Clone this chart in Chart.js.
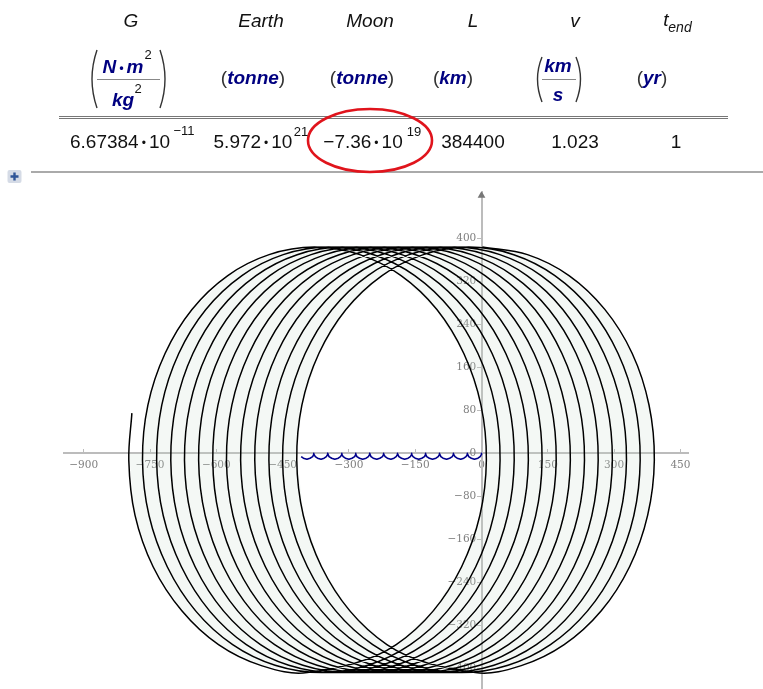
<!DOCTYPE html>
<html>
<head>
<meta charset="utf-8">
<title>Moon orbit</title>
<script src="https://cdn.jsdelivr.net/npm/chart.js@4"></script>
<style>
    html, body { margin: 0; background: #fff; }
    #page { position: relative; width: 763px; height: 689px; overflow: hidden; font-family: "Liberation Sans", Arial, sans-serif; color: #111; }
    #chart, #marks { position: absolute; left: 0; top: 0; }
    .t { position: absolute; font-size: 19px; line-height: 1; white-space: nowrap; transform: translate(-50%, -50%); }
    .i { font-style: italic; }
    .u { font-style: italic; font-weight: bold; color: #000080; }
    .p { font-style: normal; font-weight: normal; color: #333; }
    .s { font-size: 13px; }
    .d { font-size: 12px; margin: 0 3px; position: relative; top: -1px; }
</style>
</head>
<body>
<div id="page">
    <canvas id="chart" width="763" height="695"></canvas>

    <svg id="marks" width="763" height="689" fill="none">
        <path d="M97 50 Q87 79 97 108 M160 50 Q170 79 160 108" stroke="#333" stroke-width="1.4"/>
        <path d="M542 57 Q533 79 542 102 M576 57 Q585 79 576 102" stroke="#333" stroke-width="1.4"/>
        <path d="M97 79.5 H160 M542 79.5 H576" stroke="#888" stroke-width="1"/>
        <path d="M59 116.5 H728 M59 118.5 H728" stroke="#777" stroke-width="1.2"/>
        <path d="M31 172 H763" stroke="#aaa" stroke-width="2"/>
        <rect x="7.5" y="170" width="14" height="13" rx="2" fill="#d5dbe6"/>
        <path d="M14.5 172.5 V180.5 M10.5 176.5 H18.5" stroke="#2f5597" stroke-width="2.4"/>
        <ellipse cx="370" cy="140.5" rx="62" ry="31.5" stroke="#e0141c" stroke-width="2.6"/>
    </svg>

    <div class="t i" style="left:131px;top:20px">G</div>
    <div class="t i" style="left:261px;top:20px">Earth</div>
    <div class="t i" style="left:370px;top:20px">Moon</div>
    <div class="t i" style="left:473px;top:20px">L</div>
    <div class="t i" style="left:575px;top:20px">v</div>
    <div class="t i" style="left:666px;top:19px">t</div>
    <div class="t i" style="left:680px;top:27px;font-size:14px">end</div>

    <div class="t u" style="left:123px;top:66px">N<span class="d" style="color:#000080">•</span>m</div>
    <div class="t s" style="left:148px;top:54px">2</div>
    <div class="t u" style="left:123px;top:99px">kg</div>
    <div class="t s" style="left:138px;top:88px">2</div>
    <div class="t u" style="left:253px;top:77px"><span class="p">(</span>tonne<span class="p">)</span></div>
    <div class="t u" style="left:362px;top:77px"><span class="p">(</span>tonne<span class="p">)</span></div>
    <div class="t u" style="left:453px;top:77px"><span class="p">(</span>km<span class="p">)</span></div>
    <div class="t u" style="left:558px;top:65px">km</div>
    <div class="t u" style="left:558px;top:94px">s</div>
    <div class="t u" style="left:652px;top:77px"><span class="p">(</span>yr<span class="p">)</span></div>

    <div class="t" style="left:120px;top:141px">6.67384<span class="d">•</span>10</div>
    <div class="t s" style="left:184px;top:130px">−11</div>
    <div class="t" style="left:253px;top:141px">5.972<span class="d">•</span>10</div>
    <div class="t s" style="left:301px;top:131px">21</div>
    <div class="t" style="left:363px;top:141px">−7.36<span class="d">•</span>10</div>
    <div class="t s" style="left:414px;top:131px">19</div>
    <div class="t" style="left:473px;top:141px">384400</div>
    <div class="t" style="left:575px;top:141px">1.023</div>
    <div class="t" style="left:676px;top:141px">1</div>
</div>

<script>
// Moon path, one row per orbit
// first half turn and last part are sampled finer so the two free ends stay round
const moonX = [
    2, 104, 198, 279, 341, 379,
    391, 376, 335, 271, 187, 90, -14, -214, -362, -418, -368, -225, -29, 166, 309,
    359, 304, 156, -45, -246, -394, -450, -399, -257, -61, 135, 277,
    328, 272, 124, -77, -278, -426, -481, -431, -288, -93, 103, 245,
    296, 240, 92, -109, -310, -457, -513, -463, -320, -125, 71, 214,
    264, 209, 61, -140, -341, -489, -545, -494, -352, -156, 40, 182,
    233, 177, 29, -172, -373, -521, -577, -526, -384, -188, 8, 150,
    201, 145, -3, -204, -405, -553, -608, -558, -415, -220, -24, 119,
    169, 113, -35, -235, -436, -584, -640, -590, -447, -251, -56, 87,
    137, 82, -66, -267, -468, -616, -672, -621, -479, -283, -87, 55,
    106, 50, -98, -299, -500, -648, -703, -653, -510, -315, -119, 24,
    74, 18, -130, -331, -532, -679, -735, -685, -542, -346, -151, -8,
    42, -13, -161, -362, -563, -711, -767, -716, -574, -378, -182, -40,
    11, -45, -193, -394, -498, -595, -678, -743, -784, -798, -791
];
const moonY = [
    384, 370, 331, 268, 186, 90,
    -13, -115, -211, -293, -356, -395, -408, -356, -211, -13, 186, 331, 384, 331, 186,
    -13, -211, -356, -408, -356, -211, -13, 186, 331, 384, 331, 186,
    -13, -211, -356, -408, -356, -211, -13, 186, 331, 384, 331, 186,
    -13, -211, -356, -408, -356, -211, -13, 186, 331, 384, 331, 186,
    -13, -211, -356, -408, -356, -211, -13, 186, 331, 384, 331, 186,
    -13, -211, -356, -408, -356, -211, -13, 186, 331, 384, 331, 186,
    -13, -211, -356, -408, -356, -211, -13, 186, 331, 384, 331, 186,
    -13, -211, -356, -408, -356, -211, -13, 186, 331, 384, 331, 186,
    -13, -211, -356, -408, -356, -211, -13, 186, 331, 384, 331, 186,
    -13, -211, -356, -408, -356, -211, -13, 186, 331, 384, 331, 186,
    -13, -211, -356, -408, -356, -211, -13, 186, 331, 384, 331, 186,
    -13, -211, -356, -408, -356, -211, -13, 186, 331, 384, 331, 186,
    -13, -211, -356, -408, -395, -356, -293, -211, -115, -13, 75
];

// Earth path, small arches below the x axis
const earthX = [
    0, 0, -3, -8, -16, -23, -29, -31, -32,
    -32, -35, -40, -47, -55, -60, -63, -63,
    -64, -66, -72, -79, -87, -92, -94, -95,
    -95, -98, -103, -111, -118, -124, -126, -126,
    -127, -129, -135, -142, -150, -155, -158, -158,
    -158, -161, -166, -174, -181, -187, -189, -190,
    -190, -193, -198, -205, -213, -218, -221, -221,
    -222, -224, -230, -237, -245, -250, -252, -253,
    -253, -256, -261, -269, -276, -282, -284, -284,
    -285, -287, -293, -300, -308, -313, -316, -316,
    -316, -319, -324, -332, -339, -345, -347, -348,
    -348, -351, -356, -363, -371, -376, -379, -379,
    -380, -382, -388, -395, -403, -408
];
const earthY = [
    0, -2, -6, -9, -11, -9, -6, -2, 0,
    -2, -6, -9, -11, -9, -6, -2, 0,
    -2, -6, -9, -11, -9, -6, -2, 0,
    -2, -6, -9, -11, -9, -6, -2, 0,
    -2, -6, -9, -11, -9, -6, -2, 0,
    -2, -6, -9, -11, -9, -6, -2, 0,
    -2, -6, -9, -11, -9, -6, -2, 0,
    -2, -6, -9, -11, -9, -6, -2, 0,
    -2, -6, -9, -11, -9, -6, -2, 0,
    -2, -6, -9, -11, -9, -6, -2, 0,
    -2, -6, -9, -11, -9, -6, -2, 0,
    -2, -6, -9, -11, -9, -6, -2, 0,
    -2, -6, -9, -11, -9, -6
];

// Edges of the pale band swept by the orbit
const bandTopX = [-767, -755, -716, -654, -574, -479, -378, 2, 104, 198, 279, 341, 379, 391];
const bandTopY = [0, 90, 186, 267, 331, 370, 384, 384, 370, 331, 267, 186, 90, 0];
const holeTopX = [-767, -418, -406, -368, -306, -225, -204, -182, -102, -40, -2, 11, 391];
const holeTopY = [0, 0, 90, 186, 267, 331, 345, 331, 267, 186, 90, 0, 0];
const bandBottomX = [-798, -784, -743, -678, -595, -498, -394, -14, 90, 187, 271, 335, 376, 391];
const bandBottomY = [0, -115, -211, -293, -356, -395, -408, -408, -395, -356, -293, -211, -115, 0];
const holeBottomX = [-798, -418, -403, -362, -298, -214, -204, -193, -110, -45, -4, 11, 391];
const holeBottomY = [0, 0, -115, -211, -293, -356, -362, -356, -293, -211, -115, 0, 0];

const arrowX = [0];
const arrowY = [480];

const xTicks = [-900, -750, -600, -450, -300, -150, 0, 150, 300, 450];
const yTicks = [400, 320, 240, 160, 80, 0, -80, -160, -240, -320, -400];

function points(xs, ys) {
    return xs.map((x, i) => ({ x: x, y: ys[i] }));
}

function tickText(value) {
    return value < 0 ? '\u2212' + Math.abs(value) : String(value);
}

const axisFont = { family: '"DejaVu Serif", serif', size: 10.5 };
const axisGray = '#bcbcbc';
const labelGray = '#808080';
const paleFill = 'rgba(200, 220, 205, 0.2)';

function edge(xs, ys, fill) {
    return {
        data: points(xs, ys),
        showLine: true,
        tension: 0,
        borderWidth: 0,
        borderColor: 'transparent',
        backgroundColor: paleFill,
        pointRadius: 0,
        fill: fill
    };
}

new Chart(document.getElementById('chart').getContext('2d'), {
    type: 'scatter',
    data: {
        datasets: [
            {
                label: 'Moon',
                data: points(moonX, moonY),
                showLine: true,
                tension: 0.35,
                borderColor: '#000000',
                borderWidth: 1.5,
                pointRadius: 0,
                fill: false
            },
            {
                label: 'Earth',
                data: points(earthX, earthY),
                showLine: true,
                tension: 0,
                borderColor: '#00008c',
                borderWidth: 1.6,
                borderJoinStyle: 'round',
                pointRadius: 0,
                fill: false
            },
            {
                label: 'arrow',
                data: points(arrowX, arrowY),
                pointStyle: 'triangle',
                pointRadius: 4.5,
                backgroundColor: '#777777',
                borderColor: '#777777',
                borderWidth: 0,
                fill: false
            },
            edge(bandTopX, bandTopY, '+1'),
            edge(holeTopX, holeTopY, false),
            edge(bandBottomX, bandBottomY, '+1'),
            edge(holeBottomX, holeBottomY, false)
        ]
    },
    options: {
        responsive: false,
        animation: false,
        events: [],
        layout: { padding: { left: 64, right: 75, top: 192, bottom: 0 } },
        plugins: { legend: { display: false }, tooltip: { enabled: false } },
        scales: {
            x: {
                type: 'linear',
                min: -944.6,
                max: 467.2,
                position: { y: 0 },
                afterBuildTicks: axis => { axis.ticks = xTicks.map(v => ({ value: v })); },
                border: { color: axisGray, width: 2 },
                grid: { drawOnChartArea: false, drawTicks: true, tickLength: -5, color: axisGray, lineWidth: 1 },
                ticks: {
                    autoSkip: false, maxRotation: 0, minRotation: 0, padding: 11,
                    color: labelGray, font: axisFont, callback: tickText
                }
            },
            y: {
                type: 'linear',
                min: -438,
                max: 486.5,
                position: { x: 0 },
                afterBuildTicks: axis => { axis.ticks = yTicks.map(v => ({ value: v })); },
                border: { color: axisGray, width: 2 },
                grid: { drawOnChartArea: false, drawTicks: true, tickLength: 4, color: axisGray, lineWidth: 1 },
                ticks: {
                    autoSkip: false, padding: 0,
                    color: labelGray, font: axisFont,
                    callback: value => tickText(value) + '\u2002'
                }
            }
        }
    }
});
</script>
</body>
</html>
